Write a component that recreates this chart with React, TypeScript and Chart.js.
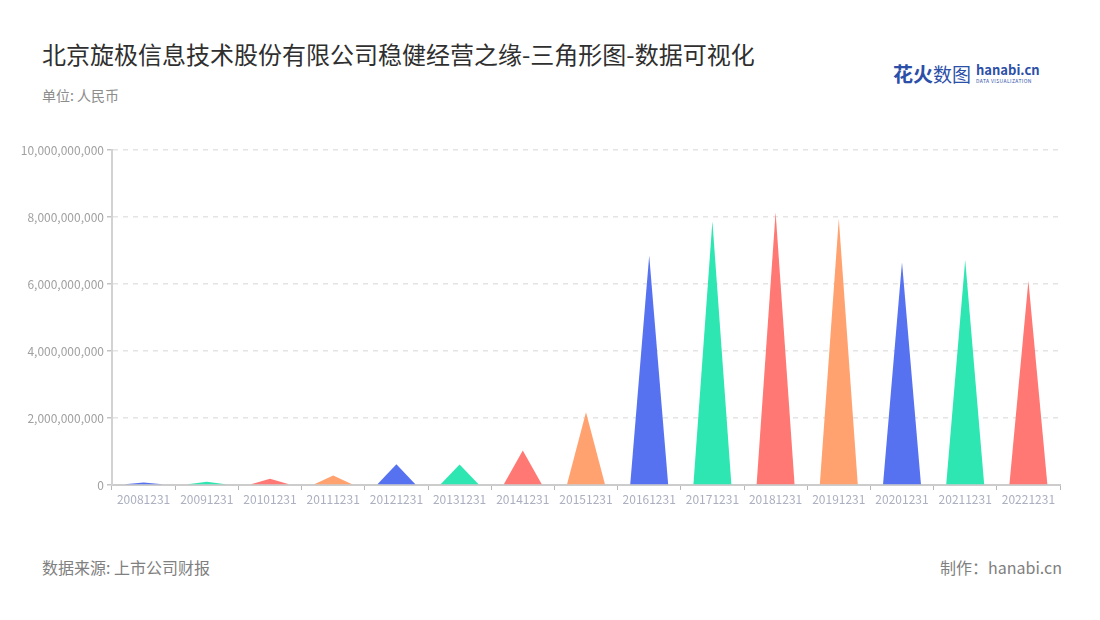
import React, { useEffect, useRef } from 'react';
import Chart from 'chart.js/auto';

const years: string[] = [
  '20081231', '20091231', '20101231', '20111231', '20121231',
  '20131231', '20141231', '20151231', '20161231', '20171231',
  '20181231', '20191231', '20201231', '20211231', '20221231',
];

// 稳健经营之缘 (元)
const amounts: number[] = [
  75e6, 100e6, 185e6, 280e6, 620e6,
  615e6, 1030e6, 2170e6, 6850e6, 7870e6,
  8140e6, 7950e6, 6650e6, 6720e6, 6100e6,
];

const palette: string[] = ['#5672F0', '#2EE6B1', '#FF7873', '#FFA270'];

const FONT = '"Noto Sans CJK SC", "Noto Sans", sans-serif';

// draws each bar element as a triangle
const trianglePlugin = {
  id: 'triangles',
  afterDatasetsDraw(chart: any) {
    const ctx = chart.ctx;
    const meta = chart.getDatasetMeta(0);
    meta.data.forEach((bar: any, i: number) => {
      const { x, y, base, width } = bar.getProps(['x', 'y', 'base', 'width'], true);
      ctx.save();
      ctx.beginPath();
      ctx.moveTo(x - width / 2, base);
      ctx.lineTo(x, y);
      ctx.lineTo(x + width / 2, base);
      ctx.closePath();
      ctx.fillStyle = palette[i % palette.length];
      ctx.fill();
      ctx.restore();
    });
  },
};

const TriangleChart: React.FC = () => {
  const chartRef = useRef<HTMLCanvasElement>(null);

  useEffect(() => {
    if (!chartRef.current) return;
    const chart = new Chart(chartRef.current, {
      type: 'bar',
      data: {
        labels: years,
        datasets: [
          {
            data: amounts,
            backgroundColor: 'rgba(0,0,0,0)',
            categoryPercentage: 1,
            barPercentage: 0.6,
          },
        ],
      },
      options: {
        animation: false,
        responsive: false,
        maintainAspectRatio: false,
        layout: { padding: { top: 20, right: 40, bottom: 0, left: 0 } },
        plugins: {
          legend: { display: false },
          tooltip: { enabled: false },
        },
        scales: {
          x: {
            grid: {
              drawOnChartArea: false,
              drawTicks: true,
              tickLength: 5,
              tickColor: '#b8b8b8',
            },
            border: { color: '#cccccc', width: 2 },
            ticks: {
              autoSkip: false,
              maxRotation: 0,
              minRotation: 0,
              padding: 2,
              color: '#abafbf',
              font: { family: FONT, size: 12 },
            },
            afterFit: (scale: any) => {
              scale.height = 45;
            },
          },
          y: {
            min: 0,
            max: 10000000000,
            grid: {
              color: '#e4e4e4',
              lineWidth: 1.5,
              tickLength: 5,
              tickColor: '#c4c4c4',
              tickBorderDash: [],
            },
            border: { color: '#d2d2d2', width: 2, dash: [5, 5] },
            ticks: {
              stepSize: 2000000000,
              padding: 3,
              color: '#a0a0a0',
              font: { family: FONT, size: 12 },
              callback: (v: any) => Number(v).toLocaleString('en-US'),
            },
            afterFit: (scale: any) => {
              scale.width = 112;
            },
          },
        },
      },
      plugins: [trianglePlugin],
    });

    return () => {
      chart.destroy();
    };
  }, []);

  return <canvas ref={chartRef} width={1100} height={400} style={{ display: 'block' }} />;
};

const App: React.FC = () => {
  return (
    <div
      style={{
        position: 'absolute',
        left: 0,
        top: 0,
        width: 1100,
        height: 620,
        background: '#ffffff',
        fontFamily: FONT,
        overflow: 'hidden',
      }}
    >
      <div
        style={{
          position: 'absolute',
          left: 42,
          top: 36,
          fontSize: 24,
          color: '#2f2f2f',
          whiteSpace: 'nowrap',
        }}
      >
        北京旋极信息技术股份有限公司稳健经营之缘-三角形图-数据可视化
      </div>
      <div style={{ position: 'absolute', left: 42, top: 85, fontSize: 14, color: '#8c8c8c' }}>
        单位: 人民币
      </div>

      <div style={{ position: 'absolute', left: 893, top: 59, display: 'flex', alignItems: 'center' }}>
        <span style={{ fontSize: 20, fontWeight: 700, color: '#2c4fa8' }}>花火</span>
        <span style={{ fontSize: 19, color: '#2c4fa8' }}>数图</span>
        <span style={{ display: 'flex', flexDirection: 'column', marginLeft: 5 }}>
          <span style={{ fontSize: 13, fontWeight: 700, color: '#2c4fa8', lineHeight: '14px' }}>hanabi.cn</span>
          <span style={{ fontSize: 5, color: '#2c4fa8', lineHeight: '7px', letterSpacing: 0.4 }}>
            DATA VISUALIZATION
          </span>
        </span>
      </div>

      <div style={{ position: 'absolute', left: 0, top: 130 }}>
        <TriangleChart />
      </div>

      <div style={{ position: 'absolute', left: 42, top: 555, fontSize: 16, color: '#808080' }}>
        数据来源: 上市公司财报
      </div>
      <div
        style={{
          position: 'absolute',
          right: 38,
          top: 555,
          fontSize: 16,
          color: '#808080',
          whiteSpace: 'nowrap',
        }}
      >
        制作：hanabi.cn
      </div>
    </div>
  );
};

export default App;
